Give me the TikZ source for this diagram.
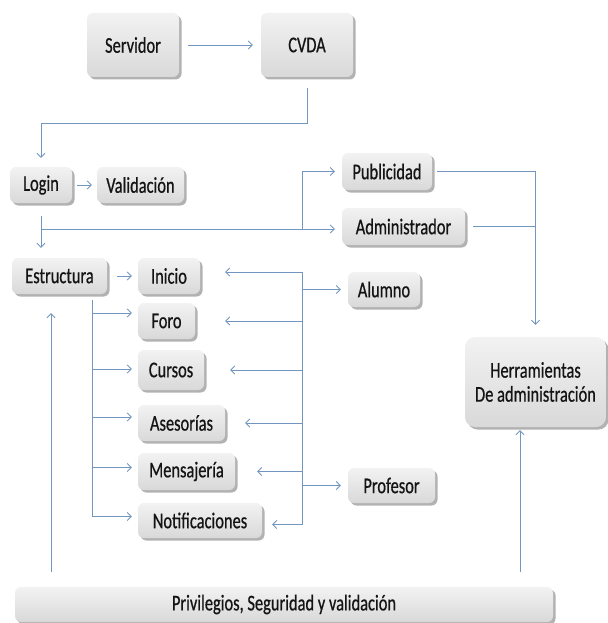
\documentclass[tikz,border=0pt]{standalone}
\usepackage{fontspec}
\setmainfont{Carlito}[FakeStretch=0.73,FakeBold=0.6]
\usetikzlibrary{arrows.meta,shadows}
\definecolor{conncol}{RGB}{115,150,192}
\definecolor{txtcol}{RGB}{20,20,20}
\begin{document}
\begin{tikzpicture}[x=1pt,y=-1pt,
  box/.style={rounded corners=6pt, top color=gray!10, bottom color=gray!30, draw=none,
    inner sep=0pt, align=center, font=\fontsize{22.5}{24}\selectfont, text=txtcol,
    drop shadow={shadow xshift=2.5pt, shadow yshift=-2.5pt, opacity=0.55, fill=black!55}},
  plain/.style={draw=conncol, line width=0.9pt},
  conn/.style={plain, -{Straight Barb[length=4pt,width=8pt]}}]
\useasboundingbox (0,0) rectangle (607,623);

\node[box, minimum width=92pt, minimum height=64pt] (serv) at (133,45) {Servidor};
\node[box, minimum width=92pt, minimum height=64pt] (cvda) at (307,45) {CVDA};
\node[box, minimum width=62pt, minimum height=36pt] (login) at (41,185) {Login};
\node[box, minimum width=87pt, minimum height=36pt] (valid) at (140.5,185) {Validación};
\node[box, minimum width=90pt, minimum height=37pt] (publi) at (387,171.5) {Publicidad};
\node[box, minimum width=123pt, minimum height=37pt] (admin) at (403.5,226.5) {Administrador};
\node[box, minimum width=95pt, minimum height=36pt] (estruct) at (59.5,276) {Estructura};
\node[box, minimum width=62pt, minimum height=36pt] (inicio) at (169,276) {Inicio};
\node[box, minimum width=57pt, minimum height=36pt] (foro) at (166.5,321) {Foro};
\node[box, minimum width=66pt, minimum height=40pt] (cursos) at (171,370) {Cursos};
\node[box, minimum width=87pt, minimum height=36pt] (asesor) at (181.5,423) {Asesorías};
\node[box, minimum width=97pt, minimum height=37pt] (mensaj) at (186.5,471.5) {Mensajería};
\node[box, minimum width=124pt, minimum height=35pt] (notif) at (200,520.5) {Notificaciones};
\node[box, minimum width=72pt, minimum height=35pt] (alumno) at (384,289.5) {Alumno};
\node[box, minimum width=87pt, minimum height=35pt] (profesor) at (391.5,485.5) {Profesor};
\node[box, rounded corners=10pt, minimum width=141pt, minimum height=90pt] (herr) at (535.5,382) {Herramientas\\De administración};
\node[box, minimum width=538pt, minimum height=35pt] (priv) at (284,604.5) {Privilegios, Seguridad y validación};

% top
\draw[conn, shorten <=9pt, shorten >=8pt] (serv) -- (cvda);
\draw[conn, shorten <=11pt, shorten >=9pt] (cvda.south) |- ([yshift=43pt]login.north) -- (login.north);
\draw[conn, shorten <=5pt, shorten >=5pt] (login) -- (valid);
\draw[conn, shorten <=13pt, shorten >=10pt] (login.south) -- (login.south |- estruct.north);

% admin / publicidad
\coordinate (jl) at (41,229);
\coordinate (jp) at (302,229);
\draw[conn, shorten >=7pt] (jl) -- (jl -| admin.west);
\draw[conn, shorten >=7pt] (jp) |- (publi.west);
\draw[conn, shorten <=5pt, shorten >=12pt] (publi.east) -| (herr.north);
\draw[plain, shorten <=8pt] (admin.east) -- (admin.east -| herr.north);

% estructura
\draw[conn, shorten <=10pt, shorten >=6pt] (estruct) -- (inicio);
\coordinate (tk) at (92,300);
\coordinate (bforo) at ([yshift=8pt]foro.west);
\coordinate (bcursos) at ([yshift=1pt]cursos.west);
\coordinate (basesor) at ([yshift=6pt]asesor.west);
\coordinate (bmensaj) at ([yshift=4pt]mensaj.west);
\coordinate (bnotif) at ([yshift=4pt]notif.west);
\draw[plain] (tk) -- (tk |- bnotif);
\foreach \b in {bforo,bcursos,basesor,bmensaj,bnotif}
  \draw[conn, shorten >=6pt] (tk |- \b) -- (\b);

% right trunk
\coordinate (rt) at (302,272);
\coordinate (rnotif) at ([yshift=-4pt]notif.east);
\draw[plain] (rt) -- (rt |- rnotif);
\draw[conn, shorten >=25pt] (rt) -- (rt -| inicio.east);
\draw[conn, shorten >=30pt] (rt |- foro.east) -- (foro.east);
\draw[conn, shorten >=26pt] (rt |- cursos.east) -- (cursos.east);
\draw[conn, shorten >=20pt] (rt |- asesor.east) -- (asesor.east);
\draw[conn, shorten >=22pt] (rt |- mensaj.east) -- (mensaj.east);
\draw[conn, shorten >=10pt] (rt |- rnotif) -- (rnotif);
\draw[conn, shorten >=7pt] (rt |- alumno.west) -- (alumno.west);
\draw[conn, shorten >=7pt] (rt |- profesor.west) -- (profesor.west);

% up arrows
\coordinate (ua) at (51,572);
\coordinate (ub) at (520,572);
\draw[conn, shorten <=15pt, shorten >=19pt] (priv.north -| ua) -- (estruct.south -| ua);
\draw[conn, shorten <=15pt, shorten >=3pt] (priv.north -| ub) -- (herr.south -| ub);
\end{tikzpicture}
\end{document}
